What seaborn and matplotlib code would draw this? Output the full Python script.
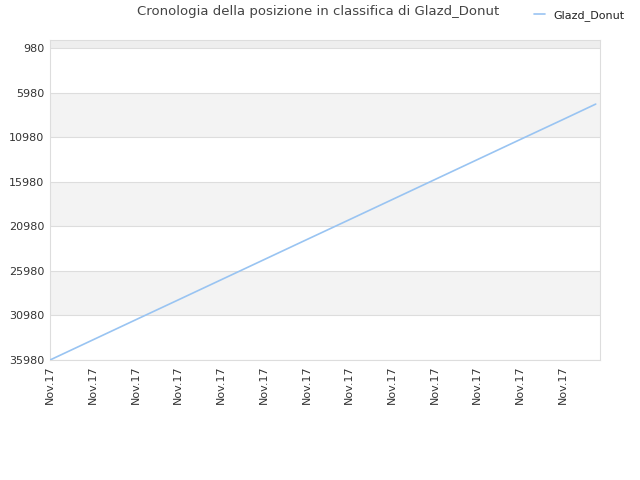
import matplotlib
matplotlib.use("Agg")
import matplotlib.pyplot as plt
import seaborn as sns
import pandas as pd

title = "Cronologia della posizione in classifica di Glazd_Donut"
series_name = "Glazd_Donut"
x_pos = [0, 1, 2, 3, 4, 5, 6, 7, 8, 9, 10, 11, 12, 12.77]
positions = [35980, 33730, 31480, 29240, 26990, 24740, 22490, 20250, 18000, 15750, 13500, 11250, 9010, 7270]
tick_labels = ["Nov.17"] * 13
y_ticks = [980, 5980, 10980, 15980, 20980, 25980, 30980, 35980]

sns.set_style("white")
plt.rcParams['font.family'] = ['DejaVu Sans']

df = pd.DataFrame({"x": x_pos, "pos": positions})

fig = plt.figure(figsize=(6.4, 4.8), dpi=100)
ax = fig.add_axes([50/640, 1 - 360/480, 550/640, 320/480])

ylim_top = 80
# alternating bands
ax.axhspan(ylim_top, y_ticks[0], color="#eeeeee", zorder=0, lw=0)
for i in range(len(y_ticks) - 1):
    if i % 2 == 1:
        ax.axhspan(y_ticks[i], y_ticks[i + 1], color="#f3f3f3", zorder=0, lw=0)
for t in y_ticks:
    ax.axhline(t, color="#dddddd", lw=0.8, zorder=1)

sns.lineplot(data=df, x="x", y="pos", ax=ax, color="#99c4f2", lw=1.2, label=series_name, zorder=3)

ax.set_xlim(0, 12.87)
ax.set_ylim(35980, ylim_top)
ax.set_yticks(y_ticks)
ax.set_yticklabels([str(t) for t in y_ticks], fontsize=8, color="#333333")
ax.set_xticks(list(range(13)))
ax.set_xticklabels(tick_labels, rotation=90, fontsize=8, color="#333333")
ax.set_xlabel("")
ax.set_ylabel("")
ax.tick_params(axis="both", length=0, pad=4)
for s in ax.spines.values():
    s.set_color("#dddddd")
    s.set_linewidth(0.8)

fig.text(318/640, 1 - 12/480, title, ha="center", va="center", fontsize=9.5, color="#444444")
leg = ax.legend(loc="upper right", bbox_to_anchor=(635/640, 1 - 0/480), bbox_transform=fig.transFigure,
                frameon=False, fontsize=8, handlelength=1.0, handletextpad=0.8)
for t in leg.get_texts():
    t.set_color("#222222")

fig.savefig("out.png", dpi=100)
